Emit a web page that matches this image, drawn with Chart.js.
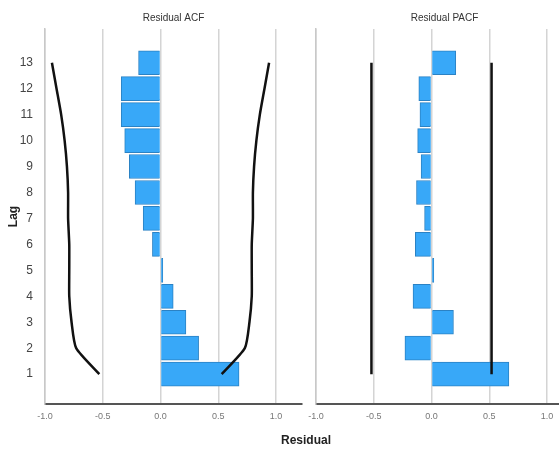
<!DOCTYPE html>
<html>
<head>
<meta charset="utf-8">
<script src="https://cdn.jsdelivr.net/npm/chart.js@4"></script>
<style>
body{margin:0;background:#fff;overflow:hidden;}
#wrap{position:relative;width:559px;height:453px;overflow:hidden;}
#acfChart{position:absolute;left:0;top:0;}
#pacfChart{position:absolute;left:296px;top:0;}
#xTitle{position:absolute;left:256px;width:100px;top:433px;text-align:center;font:bold 12px "Liberation Sans",Arial,sans-serif;color:#222;}
</style>
</head>
<body>
<div id="wrap">
<canvas id="acfChart" width="310" height="453"></canvas>
<canvas id="pacfChart" width="285" height="453"></canvas>
<div id="xTitle">Residual</div>
</div>
<script>
// ---------------- DATA ----------------
const lags = [1,2,3,4,5,6,7,8,9,10,11,12,13]
const acf = [0.68,0.33,0.22,0.11,0.02,-0.07,-0.15,-0.22,-0.27,-0.31,-0.34,-0.34,-0.19]
const acfLimit = [0.53,0.73,0.77,0.79,0.79,0.79,0.80,0.80,0.81,0.83,0.86,0.90,0.94]
const pacf = [0.67,-0.23,0.19,-0.16,0.02,-0.14,-0.06,-0.13,-0.09,-0.12,-0.10,-0.11,0.21]
const pacfLimit = [0.52,0.52,0.52,0.52,0.52,0.52,0.52,0.52,0.52,0.52,0.52,0.52,0.52]
const xTicks = [-1,-0.5,0,0.5,1]

const barColor = "#38a8f8"
const narrow = '"Liberation Sans Narrow","Liberation Sans",Arial,sans-serif'

// ---------------- HELPERS ----------------
const pts = (vals) => vals.map((v,i) => ({x:v, y:lags[i]}))

const panelTitle = {
id:"panelTitle",
afterDraw(chart, args, opts){
const ctx = chart.ctx
const a = chart.chartArea
ctx.save()
ctx.font = "10px " + narrow
ctx.fillStyle = "#333"
ctx.textAlign = "center"
ctx.textBaseline = "middle"
ctx.fillText(opts.text, (a.left + a.right) / 2, 18)
ctx.restore()
}
}

function makeChart(id, title, values, limit, showLags){
return new Chart(document.getElementById(id),{
data:{
datasets:[
{
type:"line",
order:0,
data:pts(limit),
borderColor:"#111",
borderWidth:2.5,
pointRadius:0,
tension:0.2
},
{
type:"line",
order:0,
data:pts(limit.map(v => -v)),
borderColor:"#111",
borderWidth:2.5,
pointRadius:0,
tension:0.2
},
{
type:"bar",
order:1,
data:pts(values),
backgroundColor:barColor,
borderColor:"#2b82c4",
borderWidth:1,
barThickness:24
}
]
},
options:{
indexAxis:"y",
responsive:false,
animation:false,
layout:{padding:{top:29, right:8, left:0, bottom:0}},
plugins:{
legend:{display:false},
tooltip:{enabled:false},
panelTitle:{text:title}
},
scales:{
x:{
type:"linear",
min:-1,
max:1.225,
afterBuildTicks: s => { s.ticks = xTicks.map(v => ({value:v})) },
afterFit: s => { s.height = 49 },
ticks:{
padding:7,
color:"#777",
font:{size:9, family:narrow},
callback: v => v.toFixed(1)
},
grid:{color:"#d4d4d4", lineWidth:1.5, drawTicks:false},
border:{color:"#555", width:2}
},
y:{
type:"linear",
offset:false,
min:-0.15,
max:14.3,
afterBuildTicks: s => { s.ticks = lags.map(v => ({value:v})) },
afterFit: s => { s.width = showLags ? 45 : 20 },
ticks:{
display:showLags,
padding:4,
color:"#444",
font:{size:12, family:'"Liberation Sans",Arial,sans-serif'}
},
grid:{display:false},
border:{color:"#c8c8c8", width:1.5},
title:{
display:showLags,
text:"Lag",
color:"#222",
padding:{top:6, bottom:0},
font:{size:12, weight:"bold", family:'"Liberation Sans",Arial,sans-serif'}
}
}
}
},
plugins:[panelTitle]
})
}

// ---------------- CHARTS ----------------
makeChart("acfChart", "Residual ACF", acf, acfLimit, true)
makeChart("pacfChart", "Residual PACF", pacf, pacfLimit, false)
</script>
</body>
</html>
